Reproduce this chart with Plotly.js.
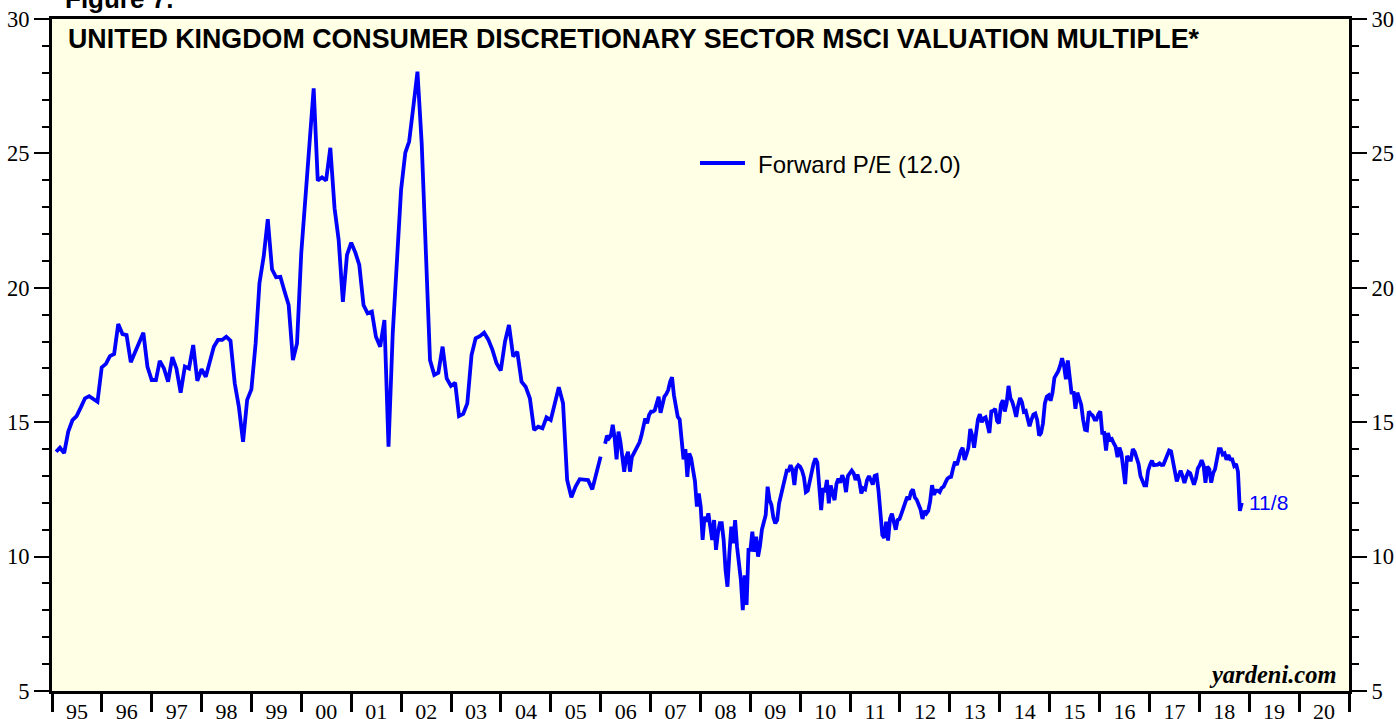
<!DOCTYPE html>
<html>
<head>
<meta charset="utf-8">
<script src="https://cdn.plot.ly/plotly-3.0.1.min.js"></script>
<style>
  html, body { margin: 0; padding: 0; background: #ffffff; }
  #chart { width: 1396px; height: 719px; }
</style>
</head>
<body>
<div id="chart"></div>
<script>
// ---- DATA ----
const chartTitle = 'UNITED KINGDOM CONSUMER DISCRETIONARY SECTOR MSCI VALUATION MULTIPLE*';
const figureLabel = 'Figure 7.';
const seriesName = 'Forward P/E';
const lastDateLabel = '11/8';
const sourceLabel = 'yardeni.com';

// Monthly forward P/E, Jan 1995 .. Dec 2005 (plotted at month end)
const monthlyStartYear = 1995;
const monthlyStartMonth = 1;
const monthlyPE = [
  13.9, 14.05, 13.85, 14.65, 15.08, 15.23, 15.55, 15.89, 15.97, 15.85, 15.76, 17.04,
  17.17, 17.46, 17.54, 18.65, 18.28, 18.24, 17.23, 17.6, 17.95, 18.33, 17.06, 16.57,
  16.57, 17.28, 17.0, 16.51, 17.42, 17.0, 16.1, 17.07, 17.0, 17.87, 16.54, 16.97,
  16.69, 17.25, 17.81, 18.06, 18.06, 18.18, 18.03, 16.45, 15.58, 14.27, 15.83, 16.22,
  17.93, 20.17, 21.16, 22.55, 20.69, 20.39, 20.41, 19.86, 19.36, 17.31, 17.93, 21.28,
  23.52, 25.25, 27.42, 23.99, 24.11, 23.99, 25.21, 22.96, 21.78, 19.48, 21.22, 21.68,
  21.3, 20.85, 19.36, 19.05, 19.11, 18.18, 17.81, 18.8, 14.09, 18.31, 21.03, 23.64,
  25.03, 25.44, 26.74, 28.04, 25.38, 21.03, 17.31, 16.76, 16.84, 17.81, 16.63, 16.35,
  16.47, 15.23, 15.31, 15.7, 17.5, 18.12, 18.2, 18.33, 18.08, 17.69, 17.19, 16.92,
  18.0, 18.62, 17.44, 17.62, 16.51, 16.32, 15.89, 14.71, 14.83, 14.77, 15.18, 15.08,
  15.7, 16.3, 15.7, 12.85, 12.21, 12.6, 12.88, 12.88, 12.85, 12.5, 13.07, 13.72
];

// Weekly forward P/E (read every second week), 2006-02-02 .. 2018-11-08
const weeklyStartDate = '2006-02-02';
const weeklyStepDays = 14;
const weeklyPE = [
  14.2, 14.5, 14.4, 14.5, 14.9, 14.4, 13.62, 14.65, 14.27, 13.59,
  13.16, 13.7, 13.9, 13.16, 13.7, 13.84, 14.0, 14.15, 14.25, 14.5,
  14.9, 15.14, 14.96, 15.27, 15.39, 15.39, 15.45, 15.7, 15.95, 15.35,
  15.75, 15.95, 16.05, 16.2, 16.5, 16.67, 16.0, 15.5, 15.2, 15.1,
  14.4, 13.62, 14.0, 12.97, 13.84, 13.66, 13.22, 12.8, 11.86, 12.35,
  11.86, 10.62, 11.48, 11.3, 11.61, 11.2, 10.62, 11.36, 10.25, 10.87,
  11.24, 11.24, 10.62, 9.5, 8.88, 10.12, 11.11, 10.5, 11.36, 10.37,
  9.75, 9.13, 8.01, 9.3, 8.2, 10.25, 10.25, 10.93, 10.18, 10.74,
  10.0, 10.4, 11.0, 11.3, 11.55, 12.6, 12.11, 11.92, 11.45, 11.24,
  11.36, 11.98, 12.3, 12.54, 13.0, 13.2, 13.2, 13.4, 13.22, 12.66,
  13.3, 13.4, 13.34, 13.2, 12.95, 12.4, 12.45, 12.8, 13.1, 13.45,
  13.65, 13.5, 12.6, 11.73, 12.55, 12.4, 12.85, 11.98, 12.65, 12.3,
  12.1, 12.7, 12.9, 12.75, 13.03, 12.85, 12.4, 13.0, 13.1, 13.2,
  13.1, 12.85, 13.05, 12.8, 12.35, 12.54, 12.5, 12.85, 13.0, 12.8,
  12.68, 13.0, 13.03, 12.45, 11.7, 10.8, 10.7, 11.3, 10.6, 11.4,
  11.6, 11.36, 11.0, 11.36, 11.4, 11.6, 11.82, 12.0, 12.22, 12.12,
  12.4, 12.5, 12.2, 12.11, 11.95, 11.75, 11.4, 11.7, 11.6, 11.7,
  12.05, 12.66, 12.3, 12.45, 12.45, 12.4, 12.55, 12.6, 12.75, 12.9,
  12.95, 12.97, 13.28, 13.53, 13.41, 13.75, 13.92, 14.05, 13.6, 13.8,
  14.05, 14.75, 14.5, 14.05, 14.65, 15.1, 15.3, 15.0, 15.14, 15.18,
  14.9, 14.6, 15.4, 15.42, 15.5, 15.05, 14.96, 15.65, 15.82, 15.4,
  15.7, 16.35, 15.89, 15.75, 15.5, 15.2, 15.62, 15.9, 15.75, 15.39,
  15.42, 15.1, 14.85, 15.1, 15.28, 15.32, 15.08, 14.5, 14.6, 14.95,
  15.7, 15.95, 16.0, 15.8, 16.1, 16.65, 16.76, 16.9, 17.1, 17.38,
  17.1, 16.6, 17.3, 16.5, 16.05, 16.15, 15.5, 16.1, 15.8, 15.65,
  15.1, 14.72, 14.7, 15.4, 15.3, 15.25, 15.1, 15.1, 15.3, 15.4,
  14.6, 14.6, 13.95, 14.6, 14.35, 14.38, 14.22, 14.09, 13.7, 14.05,
  13.85, 13.1, 12.7, 13.75, 13.6, 13.6, 14.0, 13.9, 13.65, 13.45,
  13.0, 12.85, 12.65, 12.65, 13.2, 13.41, 13.57, 13.4, 13.4, 13.42,
  13.47, 13.41, 13.42, 13.6, 13.83, 13.95, 13.92, 13.55, 13.1, 12.8,
  13.0, 13.2, 13.0, 12.74, 12.98, 13.15, 13.1, 12.9, 12.68, 12.9,
  13.28, 13.4, 13.59, 13.4, 12.75, 13.35, 13.25, 12.75, 13.1, 13.25,
  13.65, 14.0, 14.0, 13.8, 13.84, 13.6, 13.78, 13.62, 13.62, 13.38,
  13.45, 13.16, 11.7, 12.0
];

const xRange = ['1995-01-01', '2021-01-01'];
const yRange = [5, 30];

// ---- BUILD ----
function fmt(d) { return d.toISOString().slice(0, 10); }
const monthlyDates = monthlyPE.map((_, i) =>
  fmt(new Date(Date.UTC(monthlyStartYear, monthlyStartMonth - 1 + i + 1, 0))));
const w0 = new Date(weeklyStartDate + 'T00:00:00Z').getTime();
const weeklyDates = weeklyPE.map((_, k) => fmt(new Date(w0 + k * weeklyStepDays * 86400000)));

const xs = monthlyDates.concat([null], weeklyDates);
const ys = monthlyPE.concat([null], weeklyPE);
const lastX = weeklyDates[weeklyDates.length - 1];
const lastY = weeklyPE[weeklyPE.length - 1];
const legendText = seriesName + ' (' + lastY.toFixed(1) + ')';

const W = 1396, H = 719;
const M = { l: 52, r: 47, t: 19, b: 28 };
const PW = W - M.l - M.r, PH = H - M.t - M.b;
const px = (x) => (x - M.l) / PW;         // page pixel -> paper x
const py = (y) => 1 - (y - M.t) / PH;     // page pixel -> paper y

const serif = 'Liberation Serif, Times New Roman, serif';
const sans = 'Liberation Sans, Arial, Helvetica, sans-serif';
const lineColor = '#0000ff';
const lineWidth = 3.8;

const trace = {
  x: xs, y: ys, type: 'scatter', mode: 'lines',
  connectgaps: false,
  name: legendText, showlegend: false,
  line: { color: lineColor, width: lineWidth },
  hoverinfo: 'skip'
};
// empty trace so the right-hand axis is drawn
const rightAxisTrace = { x: [], y: [], type: 'scatter', mode: 'lines', yaxis: 'y2', showlegend: false, hoverinfo: 'skip' };

const yCommon = {
  range: yRange, dtick: 5, tick0: 5,
  ticks: 'outside', ticklen: 15, tickwidth: 2, tickcolor: '#000',
  showgrid: false, zeroline: false,
  showline: true, linewidth: 3, linecolor: '#000',
  tickfont: { family: serif, size: 22.5, color: '#000' },
  minor: { dtick: 1, ticks: 'outside', ticklen: 7, tickwidth: 2, tickcolor: '#000', showgrid: false },
  fixedrange: true
};

const layout = {
  width: W, height: H,
  margin: M,
  paper_bgcolor: '#ffffff',
  plot_bgcolor: '#ffffe6',
  showlegend: false,
  xaxis: {
    type: 'date', range: xRange,
    tick0: '1995-01-01', dtick: 'M12', tickformat: '%y',
    ticklabelmode: 'period',
    ticks: 'outside', ticklen: 18, tickwidth: 3, tickcolor: '#000',
    ticklabelstandoff: -19,
    showgrid: false, zeroline: false,
    showline: true, linewidth: 3, linecolor: '#000', mirror: true,
    tickfont: { family: serif, size: 22, color: '#000' },
    fixedrange: true
  },
  yaxis: Object.assign({}, yCommon, { side: 'left' }),
  yaxis2: Object.assign({}, yCommon, { side: 'right', overlaying: 'y', anchor: 'x' }),
  shapes: [
    { // legend key
      type: 'line', xref: 'paper', yref: 'paper',
      x0: px(700), x1: px(745), y0: py(163), y1: py(163),
      line: { color: lineColor, width: lineWidth }
    }
  ],
  annotations: [
    {
      text: '<b>' + chartTitle + '</b>', xref: 'paper', yref: 'paper',
      x: px(66), y: py(39), xanchor: 'left', yanchor: 'middle', showarrow: false,
      font: { family: sans, size: 26.8, color: '#000' }
    },
    {
      text: '<b>' + figureLabel + '</b>', xref: 'paper', yref: 'paper',
      x: px(63), y: py(-1), xanchor: 'left', yanchor: 'middle', showarrow: false,
      font: { family: sans, size: 26, color: '#000' }
    },
    { // legend text
      text: legendText, xref: 'paper', yref: 'paper',
      x: px(756), y: py(164), xanchor: 'left', yanchor: 'middle', showarrow: false,
      font: { family: sans, size: 24, color: '#000' }
    },
    {
      text: lastDateLabel, xref: 'x', yref: 'y', x: lastX, y: lastY,
      xanchor: 'left', yanchor: 'middle', xshift: 5, showarrow: false,
      font: { family: sans, size: 21, color: lineColor }
    },
    {
      text: '<b><i>' + sourceLabel + '</i></b>', xref: 'paper', yref: 'paper',
      x: px(1339), y: py(690), xanchor: 'right', yanchor: 'bottom', showarrow: false,
      font: { family: serif, size: 24.5, color: '#000' }
    }
  ]
};

Plotly.newPlot('chart', [trace, rightAxisTrace], layout, { displayModeBar: false, staticPlot: true });
</script>
</body>
</html>
